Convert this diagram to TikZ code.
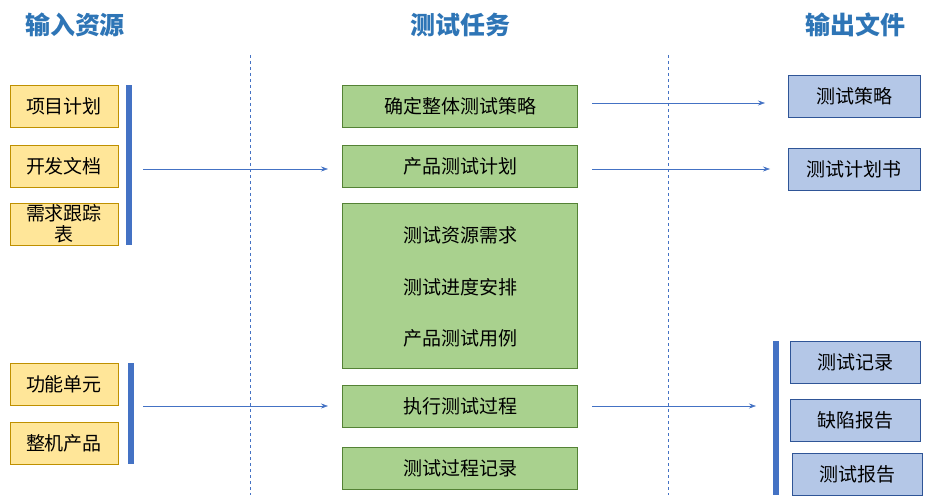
\documentclass[tikz,border=0pt]{standalone}
\usepackage{fontspec}
\setmainfont{Noto Sans CJK SC}
\usetikzlibrary{arrows.meta}
\begin{document}
\begin{tikzpicture}[x=1pt,y=-1pt]
\definecolor{yf}{HTML}{FFE699}\definecolor{yd}{HTML}{BF9000}
\definecolor{gf}{HTML}{A9D18E}\definecolor{gd}{HTML}{548235}
\definecolor{bf}{HTML}{B4C7E7}\definecolor{bd}{HTML}{2F5597}
\definecolor{tb}{HTML}{2E75B6}\definecolor{ac}{HTML}{4472C4}
\tikzset{
  ybox/.style={draw=yd,fill=yf,line width=0.8pt,font=\fontsize{19}{23}\selectfont,align=center,inner sep=1pt},
  gbox/.style={draw=gd,fill=gf,line width=0.8pt,font=\fontsize{19}{23}\selectfont,align=center},
  bbox/.style={draw=bd,fill=bf,line width=0.8pt,font=\fontsize{19}{23}\selectfont,align=center},
  gtxt/.style={font=\fontsize{19}{23}\selectfont},
  ttl/.style={font=\bfseries\fontsize{25}{28}\selectfont,text=tb},
  bar/.style={fill=ac,draw=none},
  arr/.style={-{Stealth[length=7pt,width=5pt]},draw=ac,line width=0.6pt},
  dl/.style={dashed,draw=ac,line width=0.6pt}}
\useasboundingbox (0,0) rectangle (930,500);
\node[ttl] (t1) at (75,25) {输入资源};
\node[ttl] (t2) at (460,25) {测试任务};
\node[ttl] (t3) at (855,25) {输出文件};
\coordinate (d1a) at (250,55); \coordinate (d1b) at (250,495);
\coordinate (d2a) at (668,55); \coordinate (d2b) at (668,495);
\draw[dl] (d1a)--(d1b); \draw[dl] (d2a)--(d2b);
% left
\node[ybox,minimum width=108,minimum height=42] (l1) at (64,106) {项目计划};
\node[ybox,minimum width=108,minimum height=42] (l2) at (64,166) {开发文档};
\node[ybox,minimum width=108,minimum height=42,font=\fontsize{19}{21}\selectfont] (l3) at (64,224) {需求跟踪\\表};
\fill[bar] (126,85) rectangle (132,245);
\node[ybox,minimum width=108,minimum height=42] (l4) at (64,384) {功能单元};
\node[ybox,minimum width=108,minimum height=42] (l5) at (64,443) {整机产品};
\fill[bar] (128,363) rectangle (134,464);
% middle
\node[gbox,minimum width=235,minimum height=42] (m1) at (460,106) {确定整体测试策略};
\node[gbox,minimum width=235,minimum height=42] (m2) at (460,166) {产品测试计划};
\node[gbox,minimum width=235,minimum height=165] (m3) at (460,285.5) {};
\node[gtxt] (m3a) at (460,235) {测试资源需求};
\node[gtxt] (m3b) at (460,287) {测试进度安排};
\node[gtxt] (m3c) at (460,338) {产品测试用例};
\node[gbox,minimum width=235,minimum height=42] (m4) at (460,406) {执行测试过程};
\node[gbox,minimum width=235,minimum height=42] (m5) at (460,468) {测试过程记录};
% right
\node[bbox,minimum width=132,minimum height=42] (r1) at (854,96) {测试策略};
\node[bbox,minimum width=132,minimum height=42] (r2) at (854,169) {测试计划书};
\node[bbox,minimum width=130,minimum height=42] (r3) at (855,362) {测试记录};
\node[bbox,minimum width=130,minimum height=42] (r4) at (855,420) {缺陷报告};
\node[bbox,minimum width=130,minimum height=42] (r5) at (857,474) {测试报告};
\fill[bar] (773,341) rectangle (779,495);
% arrows
\coordinate (a1) at (143,169); \coordinate (a1e) at (328,169);
\coordinate (a2) at (143,406); \coordinate (a2e) at (328,406);
\draw[arr] (a1) -- (a1e);
\draw[arr] (a2) -- (a2e);
\coordinate (b1) at (592,103); \coordinate (b1e) at (765,103);
\coordinate (b2) at (592,169); \coordinate (b2e) at (770,169);
\coordinate (b3) at (592,406); \coordinate (b3e) at (756,406);
\draw[arr] (b1) -- (b1e);
\draw[arr] (b2) -- (b2e);
\draw[arr] (b3) -- (b3e);
\end{tikzpicture}
\end{document}
